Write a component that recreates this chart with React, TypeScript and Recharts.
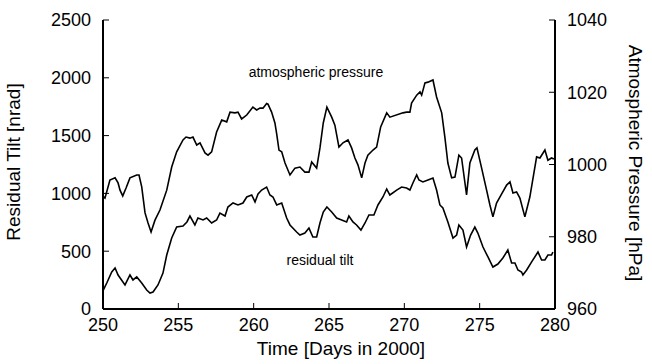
import React from 'react';
import { LineChart, Line, XAxis, YAxis } from 'recharts';

const FONT = '"Liberation Sans", Arial, Helvetica, sans-serif';

// tick values
const dayTicks = [250, 255, 260, 265, 270, 275, 280];
const innerDayTicks = [255, 260, 265, 270, 275];
const tiltTicks = [0, 500, 1000, 1500, 2000, 2500];
const pressureTicks = [960, 980, 1000, 1020, 1040];

// atmospheric pressure (right axis, hPa)
const pressureDays = [
  250.02, 250.13, 250.46, 250.8, 251.0, 251.13, 251.31, 251.53, 251.79, 252.24,
  252.39, 252.57, 252.79, 252.99, 253.19, 253.45, 253.78, 254.23, 254.56, 254.89,
  255.31, 255.51, 255.77, 255.97, 256.22, 256.44, 256.77, 256.97, 257.21, 257.54,
  257.88, 258.21, 258.43, 258.76, 258.96, 259.2, 259.54, 259.95, 260.2, 260.42,
  260.62, 260.86, 260.95, 261.19, 261.41, 261.52, 261.68, 261.86, 262.08, 262.41,
  262.74, 263.07, 263.4, 263.67, 263.85, 264.18, 264.4, 264.62, 264.86, 265.18,
  265.39, 265.66, 265.93, 266.26, 266.5, 266.72, 266.92, 267.17, 267.39, 267.58,
  267.92, 268.16, 268.43, 268.83, 269.04, 269.91, 270.15, 270.37, 270.48, 270.82,
  271.04, 271.15, 271.37, 271.57, 271.9, 272.14, 272.48, 272.69, 272.89, 273.14,
  273.36, 273.62, 273.8, 274.13, 274.35, 274.68, 274.82, 275.13, 275.46, 275.68,
  275.88, 276.12, 276.34, 276.79, 277.01, 277.21, 277.45, 277.67, 278.0, 278.33,
  278.78, 279.0, 279.33, 279.53, 279.77, 279.93,
];
const pressureHpa = [
  991.1, 990.7, 995.7, 996.3, 994.9, 992.9, 991.3, 993.5, 996.3, 997.1,
  997.1, 993.8, 986.6, 983.8, 981.3, 984.6, 987.4, 992.9, 999.3, 1003.5,
  1006.8, 1007.6, 1007.3, 1007.6, 1005.4, 1006.0, 1003.2, 1002.6, 1003.5, 1009.0,
  1012.3, 1011.8, 1014.5, 1014.3, 1014.5, 1012.6, 1013.7, 1015.9, 1015.1, 1015.6,
  1015.6, 1016.9, 1016.7, 1014.5, 1011.5, 1008.7, 1004.0, 1003.5, 1000.4, 997.1,
  999.0, 999.3, 997.9, 997.9, 1000.7, 999.0, 1004.6, 1011.5, 1015.9, 1013.1,
  1010.9, 1004.8, 1006.0, 1006.8, 1004.6, 1001.8, 999.9, 996.3, 1000.4, 1002.6,
  1004.0, 1004.8, 1010.4, 1014.3, 1013.1, 1014.3, 1014.5, 1014.5, 1017.0, 1019.2,
  1020.1, 1019.2, 1022.6, 1022.8, 1023.4, 1018.7, 1014.3, 1007.6, 1000.4, 996.3,
  996.5, 1002.6, 1001.8, 991.6, 1000.4, 1004.0, 1004.6, 999.0, 992.9, 988.8,
  985.5, 989.3, 991.0, 994.3, 995.2, 992.1, 992.4, 990.7, 985.5, 991.0,
  1002.1, 1001.8, 1004.0, 1001.2, 1001.8, 1001.5,
];

// residual tilt (left axis, nrad)
const tiltDays = [
  250.02, 250.25, 250.58, 250.8, 251.0, 251.46, 251.79, 251.99, 252.24, 252.57,
  252.9, 253.12, 253.32, 253.65, 253.98, 254.23, 254.56, 254.89, 255.31, 255.57,
  255.77, 256.1, 256.3, 256.64, 256.88, 257.21, 257.54, 257.76, 258.1, 258.29,
  258.63, 258.96, 259.29, 259.54, 259.87, 260.09, 260.29, 260.53, 260.86, 261.08,
  261.28, 261.53, 261.86, 262.19, 262.41, 262.85, 263.07, 263.4, 263.67, 263.93,
  264.18, 264.4, 264.62, 264.86, 265.18, 265.51, 265.84, 266.17, 266.32, 266.59,
  266.83, 267.12, 267.39, 267.65, 267.98, 268.25, 268.58, 268.83, 269.04, 269.49,
  269.82, 270.15, 270.37, 270.57, 270.82, 270.97, 271.23, 271.57, 271.9, 272.14,
  272.36, 272.56, 272.89, 273.23, 273.47, 273.62, 273.89, 274.13, 274.4, 274.68,
  274.88, 275.22, 275.55, 275.88, 276.21, 276.54, 276.87, 277.12, 277.34, 277.54,
  277.78, 277.87, 278.12, 278.45, 278.87, 279.11, 279.33, 279.53, 279.77, 279.86,
];
const tiltNrad = [
  164, 225, 320, 355, 294, 208, 294, 251, 277, 225,
  164, 138, 147, 208, 311, 467, 614, 709, 718, 753,
  804, 727, 787, 770, 787, 744, 770, 830, 804, 882,
  917, 900, 917, 969, 986, 926, 995, 1029, 1055, 986,
  969, 900, 917, 787, 727, 666, 640, 657, 700, 623,
  623, 744, 839, 882, 839, 787, 770, 753, 804, 753,
  727, 683, 744, 813, 813, 900, 969, 1038, 986, 1029,
  1055, 1047, 1029, 1090, 1159, 1116, 1099, 1116, 1133, 1029,
  900, 874, 753, 614, 640, 727, 683, 536, 640, 709,
  657, 536, 450, 363, 389, 441, 510, 398, 398, 337,
  320, 294, 337, 407, 493, 424, 424, 467, 467, 493,
];

const pressureData = pressureDays.map((day, i) => ({ day, hPa: pressureHpa[i] }));
const tiltData = tiltDays.map((day, i) => ({ day, nrad: tiltNrad[i] }));

const axisLine = { stroke: '#000', strokeWidth: 2 };
const tickLine = { stroke: '#000', strokeWidth: 1 };
const tickText = { fill: '#000', fontSize: 18, fontFamily: FONT };

export default function App() {
  return (
    <div style={{ position: 'absolute', left: 0, top: 0, width: 652, height: 364, background: '#fff' }}>
      <LineChart width={652} height={364} margin={{ top: 20, right: 0, bottom: 0, left: 0 }}>
        <XAxis
          xAxisId="bottom"
          type="number"
          dataKey="day"
          domain={[250, 280]}
          ticks={dayTicks}
          allowDataOverflow
          height={55}
          tickSize={-6}
          tickMargin={15}
          axisLine={axisLine}
          tickLine={tickLine}
          tick={tickText}
        />
        <XAxis
          xAxisId="top"
          orientation="top"
          type="number"
          dataKey="day"
          domain={[250, 280]}
          ticks={innerDayTicks}
          allowDataOverflow
          height={0}
          tickSize={-6}
          tickFormatter={() => ''}
          axisLine={axisLine}
          tickLine={tickLine}
          tick={tickText}
        />
        <YAxis
          yAxisId="left"
          type="number"
          domain={[0, 2500]}
          ticks={tiltTicks}
          allowDataOverflow
          width={103}
          tickSize={-6}
          tickMargin={18}
          axisLine={axisLine}
          tickLine={tickLine}
          tick={tickText}
        />
        <YAxis
          yAxisId="right"
          orientation="right"
          type="number"
          domain={[960, 1040]}
          ticks={pressureTicks}
          allowDataOverflow
          width={97}
          tickSize={-6}
          tickMargin={18}
          axisLine={axisLine}
          tickLine={tickLine}
          tick={tickText}
        />
        <Line
          xAxisId="bottom"
          yAxisId="right"
          data={pressureData}
          dataKey="hPa"
          type="linear"
          stroke="#000"
          strokeWidth={1.6}
          dot={false}
          isAnimationActive={false}
        />
        <Line
          xAxisId="bottom"
          yAxisId="left"
          data={tiltData}
          dataKey="nrad"
          type="linear"
          stroke="#000"
          strokeWidth={1.6}
          dot={false}
          isAnimationActive={false}
        />
      </LineChart>
      <svg
        width={652}
        height={364}
        style={{ position: 'absolute', left: 0, top: 0, pointerEvents: 'none' }}
        fontFamily={FONT}
        fill="#000"
      >
        <text x={20} y={162} fontSize={19} textAnchor="middle" transform="rotate(-90 20 162)">
          Residual Tilt [nrad]
        </text>
        <text x={629} y={163} fontSize={19} textAnchor="middle" transform="rotate(90 629 163)">
          Atmospheric Pressure [hPa]
        </text>
        <text x={341} y={355} fontSize={19} textAnchor="middle">
          Time [Days in 2000]
        </text>
        <text x={316} y={77} fontSize={14} textAnchor="middle">
          atmospheric pressure
        </text>
        <text x={320} y={265} fontSize={14} textAnchor="middle">
          residual tilt
        </text>
      </svg>
    </div>
  );
}
